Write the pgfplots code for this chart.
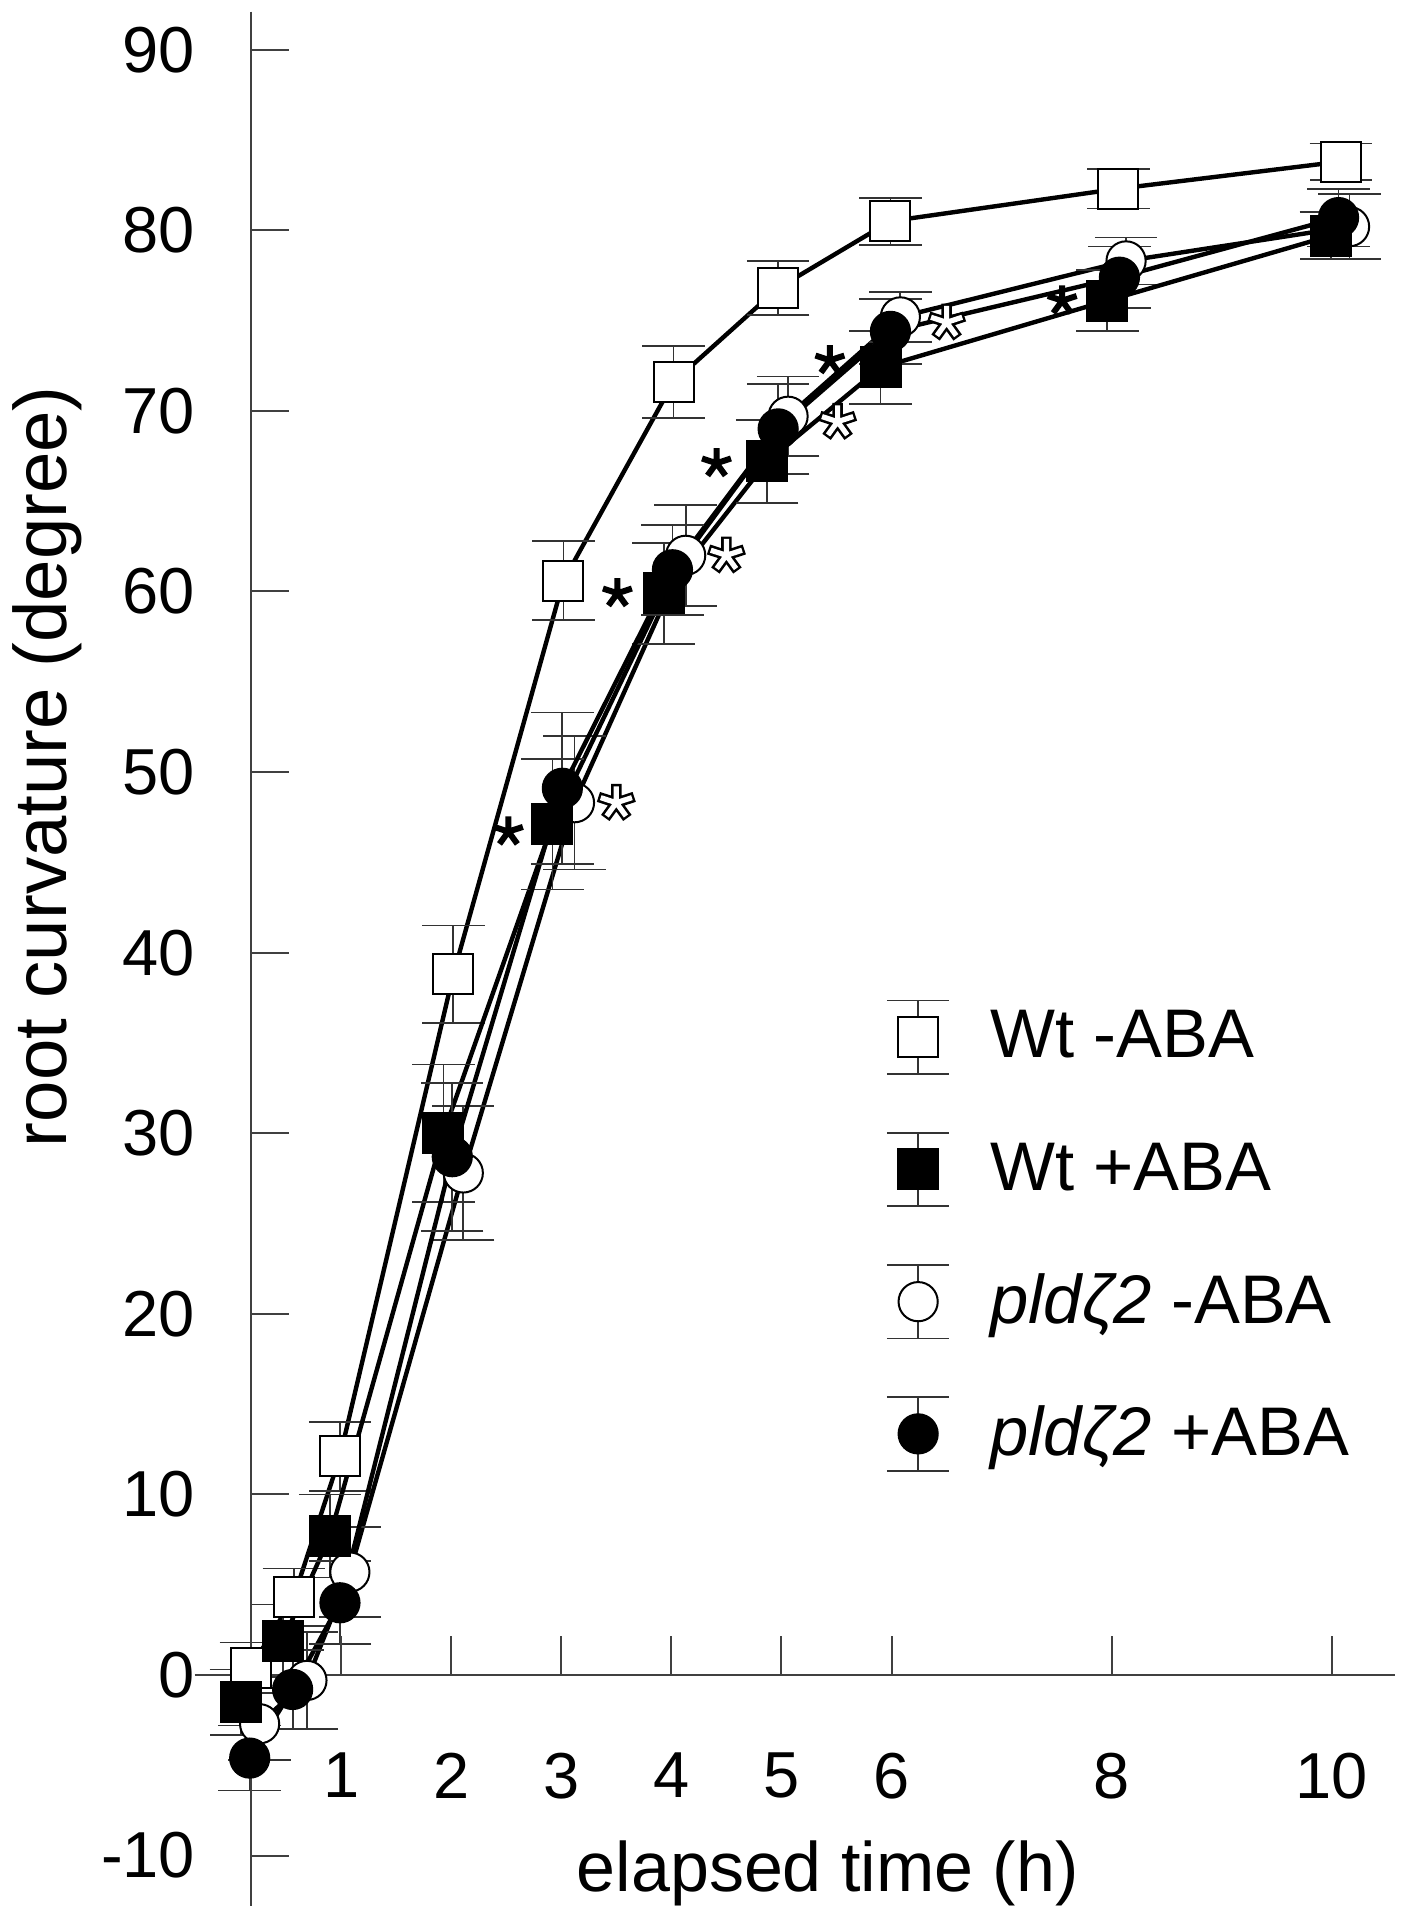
\documentclass[border=0pt]{standalone}
\usepackage{fontspec}
\setmainfont{Liberation Sans}
\usepackage{pgfplots}
\pgfplotsset{compat=1.18}
\usepackage{pgfplotstable}
\usetikzlibrary{plotmarks}

% x y err  (x)
\pgfplotstableread{
x y e
0.18 0.4 1.4
0.57 4.3 1.6
0.99 12.1 1.9
2.02 38.8 2.7
3.02 60.6 2.2
4.02 71.6 2.0
4.97 76.8 1.5
5.99 80.5 1.3
8.06 82.3 1.1
10.08 83.8 1.0
}\wtminus
\pgfplotstableread{
x y e
0.09 -1.5 1.8
0.47 1.9 2.0
0.90 7.7 2.3
1.93 30.0 3.8
2.92 47.1 3.6
3.93 59.9 2.8
4.87 67.2 2.3
5.90 72.4 2.0
7.96 76.1 1.7
9.99 79.7 1.3
}\wtplus
\pgfplotstableread{
x y e
0.26 -2.7 2.0
0.69 -0.3 2.7
1.08 5.7 2.5
2.11 27.8 3.7
3.12 48.3 3.7
4.13 62.0 2.8
5.06 69.7 2.2
6.08 75.2 1.4
8.13 78.3 1.3
10.16 80.2 1.8
}\pldminus
\pgfplotstableread{
x y e
0.17 -4.6 1.8
0.56 -0.8 2.2
0.99 4.0 2.3
2.01 28.7 4.1
3.01 49.1 4.2
4.01 61.2 2.5
4.97 69.0 2.5
5.99 74.4 1.8
8.07 77.4 1.7
10.06 80.7 1.6
}\pldplus

\pgfplotsset{
  ser/.style={line width=1.1pt, black,
    error bars/y dir=both, error bars/y explicit,
    error bars/error bar style={line width=0.45pt, black!80},
    error bars/error mark options={rotate=90, mark size=7.8pt, line width=0.45pt, black!80}},
  errleg/.style={legend image code/.code={%
    \draw[black!80, line width=0.45pt] (0pt,-9.2pt) -- (0pt,9.2pt)
      (-7.8pt,-9.2pt) -- (7.8pt,-9.2pt) (-7.8pt,9.2pt) -- (7.8pt,9.2pt);
    \draw[line width=0.5pt] plot coordinates {(0pt,0pt)};
  }},
}
\tikzset{axln/.style={black!75, line width=0.5pt}}

\begin{document}
\begin{tikzpicture}
\begin{axis}[
  x=27.525pt, y=4.515pt,
  xmin=0.18, xmax=10.57, ymin=-12.79, ymax=92.1,
  clip=false,
  axis line style={draw=none},
  xtick={1,2,3,4,5,6,8,10},
  ytick={-10,0,...,90},
  tick align=inside,
  xtick style={draw=none},
  ytick pos=left,
  major tick length=9.5pt,
  ytick style={axln},
  /pgf/number format/assume math mode=true,
  tick label style={font=\fontsize{16.25}{19}\selectfont, inner sep=0pt},
  xticklabel style={anchor=north, yshift=38.5pt},
  yticklabel style={anchor=east, xshift=-13.75pt},
  legend style={at={(axis cs:5.95,37.4)}, anchor=north west, draw=none, fill=none,
    inner sep=0pt, outer sep=0pt, row sep=14.2pt, column sep=10pt,
    font=\fontsize{17.2}{20}\selectfont, nodes={inner sep=0pt}},
  legend cell align=left,
]
\addlegendimage{errleg, mark=square*, mark size=5pt, mark options={fill=white, draw=black, line width=0.5pt}}
\addlegendentry{Wt -ABA}
\addlegendimage{errleg, mark=square*, mark size=5pt, mark options={fill=black, draw=black, line width=0.5pt}}
\addlegendentry{Wt +ABA}
\addlegendimage{errleg, mark=*, mark size=4.9pt, mark options={fill=white, draw=black, line width=0.5pt}}
\addlegendentry{\textit{pldζ2} -ABA}
\addlegendimage{errleg, mark=*, mark size=4.9pt, mark options={fill=black, draw=black, line width=0.5pt}}
\addlegendentry{\textit{pldζ2} +ABA}

\addplot[forget plot, ser, mark=square*, mark size=5pt, mark options={fill=white, draw=black, line width=0.5pt}]
  table[x=x, y=y, y error=e] {\wtminus};
\addplot[forget plot, ser, mark=*, mark size=4.9pt, mark options={fill=white, draw=black, line width=0.5pt}]
  table[x=x, y=y, y error=e] {\pldminus};
\addplot[forget plot, ser, mark=square*, mark size=5pt, mark options={fill=black, draw=black, line width=0.5pt}]
  table[x=x, y=y, y error=e] {\wtplus};
\addplot[forget plot, ser, mark=*, mark size=4.9pt, mark options={fill=black, draw=black, line width=0.5pt}]
  table[x=x, y=y, y error=e] {\pldplus};

% significance marks
\addplot[forget plot, only marks, mark=star, mark size=3.8pt, mark options={line width=1.5pt, black}]
  coordinates {(2.52,46.7) (3.51,59.9) (4.41,67.1) (5.44,72.8) (7.55,76.1)};
\addplot[forget plot, only marks, mark=star, mark size=4.7pt, mark options={line width=2.6pt, black}]
  coordinates {(3.50,48.3) (4.50,62.0) (5.51,69.4) (6.50,74.9)};
\addplot[forget plot, only marks, mark=star, mark size=4.1pt, mark options={line width=1.3pt, white}]
  coordinates {(3.50,48.3) (4.50,62.0) (5.51,69.4) (6.50,74.9)};

% axis lines and x ticks
\draw[axln] (axis cs:0.18,92.1) -- (axis cs:0.18,-12.79);
\draw[axln] (axis cs:-0.33,0) -- (axis cs:10.57,0);
\pgfplotsinvokeforeach{1,2,3,4,5,6,8,10}{\draw[axln] (axis cs:#1,0) -- ++(0pt,9.75pt);}

\node[font=\fontsize{18.6}{22}\selectfont, rotate=90] at (axis cs:-1.67,50.3) {root curvature (degree)};
\node[font=\fontsize{17.5}{21}\selectfont, anchor=base] at (axis cs:5.42,-12.0) {elapsed time (h)};

\coordinate (BL) at (axis cs:-2.098,-12.79);
\coordinate (TR) at (axis cs:10.663,92.75);
\end{axis}
\pgfresetboundingbox
\path[use as bounding box] (BL) rectangle (TR);
\end{tikzpicture}
\end{document}
